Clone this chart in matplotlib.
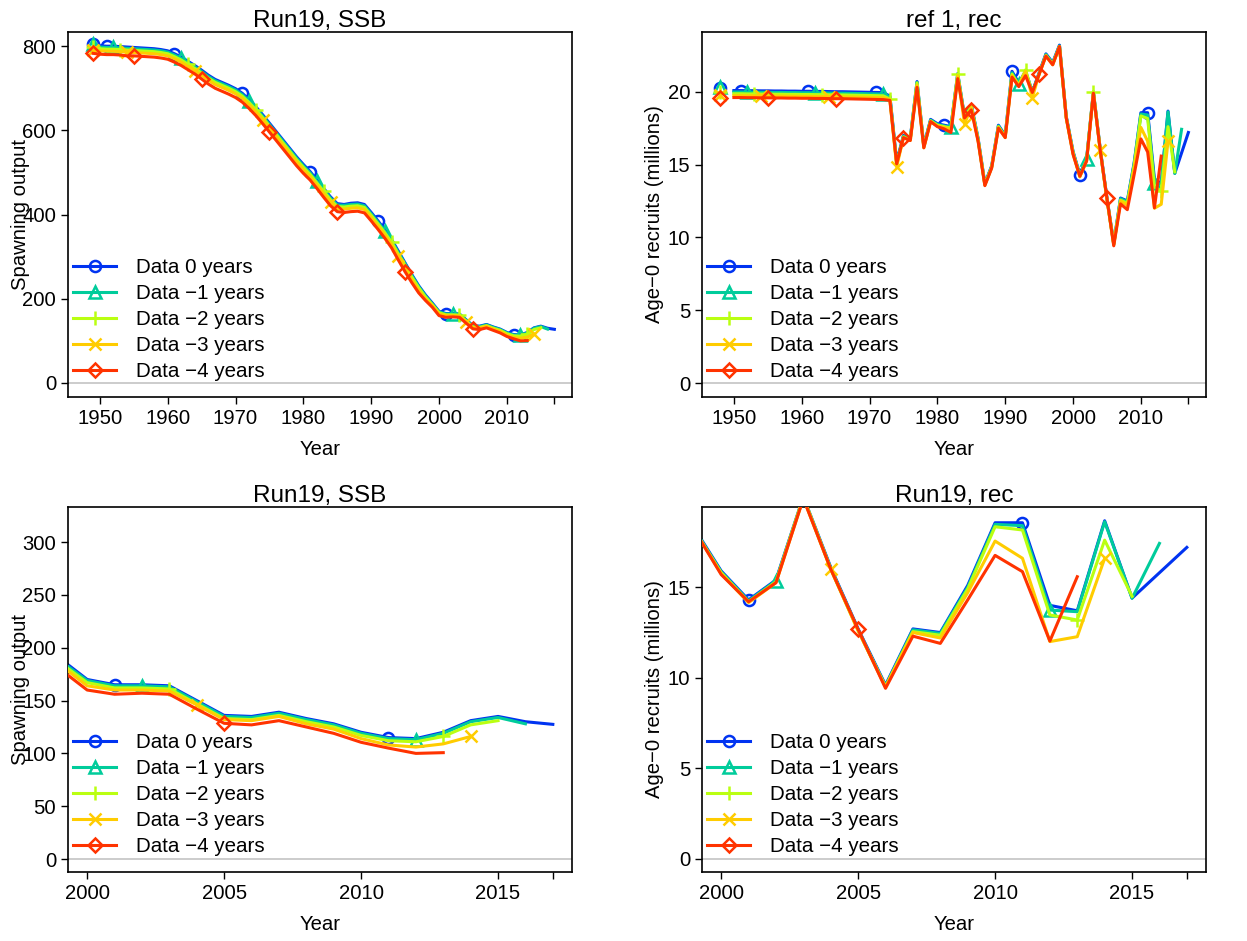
import numpy as np
import matplotlib
matplotlib.use('Agg')
import matplotlib.pyplot as plt

plt.rcParams['font.family'] = ['Liberation Sans', 'DejaVu Sans']

# retrospective runs: Data 0 .. -4 years
labels = ['Data 0 years', 'Data \u22121 years', 'Data \u22122 years',
          'Data \u22123 years', 'Data \u22124 years']
cols = ['#0033F1', '#00CC9B', '#BAFF11', '#FFCC00', '#FF3300']
marks = ['o', '^', '+', 'x', 'D']
msizes = [8, 8.5, 10, 9, 7]

# spawning output, first value is virgin (1949)
ssb_start = 1949
ssb0 = [805, 801, 800, 800, 799, 798, 797, 796, 795, 794,
        792, 789, 782, 774, 764, 754, 743, 731, 721, 714,
        707, 699, 688, 673, 656, 637, 617, 597, 577, 557,
        537, 519, 502, 482, 462, 442, 426, 424, 427, 428,
        424, 405, 385, 364, 341, 313, 285, 257, 231, 209,
        190, 170, 165, 165, 164, 150, 136, 135, 139, 133,
        128, 120, 115, 114, 120, 131, 135, 130, 127.5]
ssb1 = [806, 798, 797, 797, 796, 795, 794, 793, 792, 791,
        789, 786, 779, 771, 761, 751, 740, 728, 718, 711,
        704, 696, 685, 670, 653, 634, 614, 594, 574, 554,
        534, 516, 499, 479, 459, 439, 423, 422, 424, 425,
        421, 402, 382, 361, 338, 310, 283, 255, 229, 207,
        188, 169, 164, 164, 163, 149, 135, 134, 138, 132,
        127, 119, 114, 113, 119, 130, 134, 128]
ssb2 = [798, 794, 793, 793, 792, 791, 790, 789, 788, 787,
        785, 782, 775, 767, 757, 747, 736, 724, 714, 707,
        700, 692, 681, 666, 649, 630, 610, 590, 570, 550,
        530, 512, 495, 475, 455, 435, 419, 418, 420, 421,
        417, 398, 378, 357, 334, 306, 279, 251, 226, 204,
        186, 167, 162, 162, 161, 147, 133, 132, 136, 130,
        125, 117, 112, 111, 116, 127, 131]
ssb3 = [790, 789, 788, 788, 787, 786, 785, 784, 783, 782,
        780, 777, 770, 762, 752, 742, 731, 719, 709, 702,
        695, 687, 676, 661, 644, 625, 605, 585, 565, 545,
        525, 507, 490, 470, 450, 430, 414, 413, 415, 416,
        412, 393, 373, 352, 329, 301, 272, 245, 220, 199,
        184, 164, 160, 160, 159, 146, 132, 131, 135, 128,
        123, 114, 108, 106, 109, 116]
ssb4 = [783, 781, 780, 780, 779, 777, 777, 776, 775, 774,
        772, 769, 762, 754, 744, 734, 722, 710, 700, 693,
        686, 678, 667, 652, 635, 616, 596, 576, 556, 536,
        516, 498, 482, 462, 441, 421, 407, 405, 407, 408,
        404, 385, 365, 344, 321, 292, 264, 238, 214, 196,
        180, 160, 156, 157, 156, 142, 128.5, 127, 131, 125,
        119, 110.5, 105, 100, 100.7]
ssb_runs = [ssb0, ssb1, ssb2, ssb3, ssb4]

# age-0 recruits (millions), series from 1950, virgin point at 1948
rec_start = 1950
rec_virg_yr = 1948
rec_virg = [20.25, 20.3, 20.0, 19.75, 19.55]
rec0 = [20.08, 20.08, 20.07, 20.07, 20.06, 20.06, 20.05, 20.05, 20.04, 20.04,
        20.03, 20.03, 20.02, 20.02, 20.01, 20.0, 20.0, 19.99, 19.98, 19.97,
        19.96, 19.95, 19.94, 19.7, 15.2, 17.0, 16.8, 20.7, 16.3, 18.1,
        17.8, 17.7, 17.6, 21.25, 18.3, 19.1, 16.8, 13.7, 14.9, 17.7,
        17.0, 21.4, 20.6, 21.4, 20.0, 21.3, 22.6, 22.0, 23.2, 18.3,
        15.9, 14.3, 15.4, 20.0, 16.1, 12.7, 9.6, 12.7, 12.5, 15.1,
        18.56, 18.56, 14.0, 13.7, 18.67, 14.4, 15.8, 17.2]
rec1 = [19.98, 19.98, 19.97, 19.97, 19.96, 19.96, 19.95, 19.95, 19.94, 19.94,
        19.93, 19.93, 19.92, 19.92, 19.91, 19.9, 19.9, 19.89, 19.88, 19.87,
        19.86, 19.85, 19.84, 19.65, 15.1, 16.95, 16.75, 20.65, 16.25, 18.05,
        17.75, 17.65, 17.55, 21.2, 18.25, 19.05, 16.75, 13.65, 14.85, 17.65,
        16.95, 21.3, 20.5, 21.35, 19.95, 21.25, 22.55, 21.95, 23.15, 18.25,
        15.85, 14.25, 15.36, 19.95, 16.05, 12.65, 9.55, 12.65, 12.45, 15.0,
        18.47, 18.4, 13.74, 13.65, 18.62, 14.39, 17.42]
rec2 = [19.86, 19.86, 19.85, 19.85, 19.84, 19.84, 19.83, 19.83, 19.82, 19.82,
        19.81, 19.81, 19.8, 19.8, 19.79, 19.78, 19.78, 19.77, 19.76, 19.75,
        19.74, 19.73, 19.72, 19.5, 15.05, 16.9, 16.7, 20.6, 16.2, 18.0,
        17.7, 17.6, 17.5, 21.2, 18.2, 19.0, 16.7, 13.6, 14.8, 17.6,
        16.9, 21.2, 20.45, 21.5, 19.9, 21.2, 22.5, 21.9, 23.1, 18.2,
        15.8, 14.2, 15.3, 20.0, 16.0, 12.6, 9.5, 12.55, 12.35, 14.9,
        18.34, 18.16, 13.47, 13.19, 17.6, 14.5]
rec3 = [19.73, 19.73, 19.72, 19.72, 19.71, 19.71, 19.7, 19.7, 19.69, 19.69,
        19.68, 19.68, 19.67, 19.67, 19.66, 19.65, 19.65, 19.64, 19.63, 19.62,
        19.61, 19.6, 19.59, 19.45, 14.85, 16.85, 16.65, 20.45, 16.15, 17.95,
        17.65, 17.55, 17.4, 21.1, 17.8, 18.9, 16.65, 13.6, 14.8, 17.55,
        16.85, 21.1, 20.4, 21.4, 19.6, 21.2, 22.45, 21.85, 23.1, 18.2,
        15.75, 14.15, 15.25, 19.9, 16.0, 12.6, 9.5, 12.5, 12.2, 14.7,
        17.55, 16.6, 12.0, 12.27, 16.59]
rec4 = [19.6, 19.6, 19.59, 19.59, 19.58, 19.58, 19.57, 19.57, 19.56, 19.56,
        19.55, 19.55, 19.54, 19.54, 19.53, 19.52, 19.52, 19.51, 19.5, 19.49,
        19.48, 19.47, 19.46, 19.4, 15.05, 16.85, 16.65, 20.3, 16.15, 17.95,
        17.6, 17.45, 17.2, 20.9, 18.2, 18.75, 16.6, 13.55, 14.75, 17.5,
        16.85, 21.0, 20.35, 21.1, 19.95, 21.2, 22.45, 21.85, 23.1, 18.2,
        15.7, 14.2, 15.25, 19.9, 16.0, 12.67, 9.42, 12.3, 11.9, 14.3,
        16.76, 15.86, 12.03, 15.58]
rec_runs = [rec0, rec1, rec2, rec3, rec4]

W, H = 1247, 941
fig = plt.figure(figsize=(W / 100, H / 100), dpi=100)


def px_axes(l, t, r, b):
    return fig.add_axes([l / W, 1 - b / H, (r - l) / W, (b - t) / H])


def panel(ax, runs, start, virg, title, ylab, xlim, ylim, xt, yt):
    ax.axhline(0, color='#BEBEBE', lw=1.1, zorder=1)
    for i, vals in enumerate(runs):
        yrs = np.arange(start, start + len(vals))
        me = [k for k, y in enumerate(yrs) if (y - 1951 - i) % 10 == 0]
        if virg is None:
            me = [0] + me
        ax.plot(yrs, vals, color=cols[i], lw=2.2, marker=marks[i],
                markevery=me, ms=msizes[i], mfc='none', mew=1.8,
                solid_joinstyle='round', label=labels[i], zorder=2 + i)
        if virg is not None:
            ax.plot([rec_virg_yr], [virg[i]], ls='none', marker=marks[i],
                    ms=msizes[i], mfc='none', mew=1.8, color=cols[i],
                    zorder=2 + i)
    ax.set_xlim(*xlim)
    ax.set_ylim(*ylim)
    ax.set_xticks(xt, [str(v) for v in xt[:-1]] + [''])
    ax.set_yticks(yt)
    ax.tick_params(direction='out', length=5, width=1.0, labelsize=14.6,
                   pad=3.5)
    for s in ax.spines.values():
        s.set_linewidth(1.2)
    ax.set_title(title, fontsize=17.5, pad=3)
    ax.set_xlabel('Year', fontsize=14.6, va='center')
    ax.xaxis.set_label_coords(0.5, -0.145)
    ax.set_ylabel(ylab, fontsize=14.6, va='center')
    ax.yaxis.set_label_coords(-0.095, 0.5)
    ax.legend(loc='lower left', bbox_to_anchor=(0.0065, 0.037), frameon=False,
              fontsize=14.8, handlelength=2.1, handletextpad=0.95,
              labelspacing=0.34, borderpad=0.1, borderaxespad=0.0,
              numpoints=1)


long_x = (1945.3, 2019.6)
long_ticks = [1950, 1960, 1970, 1980, 1990, 2000, 2010, 2017]
short_x = (1999.3, 2017.7)
short_ticks = [2000, 2005, 2010, 2015, 2017]

ax1 = px_axes(68, 32, 572, 397)
panel(ax1, ssb_runs, ssb_start, None, 'Run19, SSB', 'Spawning output',
      long_x, (-33.3, 833.7), long_ticks, [0, 200, 400, 600, 800])

ax2 = px_axes(702, 32, 1206, 397)
panel(ax2, rec_runs, rec_start, rec_virg, 'ref 1, rec',
      'Age\u22120 recruits (millions)',
      long_x, (-0.96, 24.1), long_ticks, [0, 5, 10, 15, 20])

ax3 = px_axes(68, 507, 572, 872)
panel(ax3, ssb_runs, ssb_start, None, 'Run19, SSB', 'Spawning output',
      short_x, (-12.3, 333.3), short_ticks, [0, 50, 100, 150, 200, 250, 300])

ax4 = px_axes(702, 507, 1206, 872)
panel(ax4, rec_runs, rec_start, rec_virg, 'Run19, rec',
      'Age\u22120 recruits (millions)',
      short_x, (-0.72, 19.43), short_ticks, [0, 5, 10, 15])

fig.savefig('out.png', dpi=100)
